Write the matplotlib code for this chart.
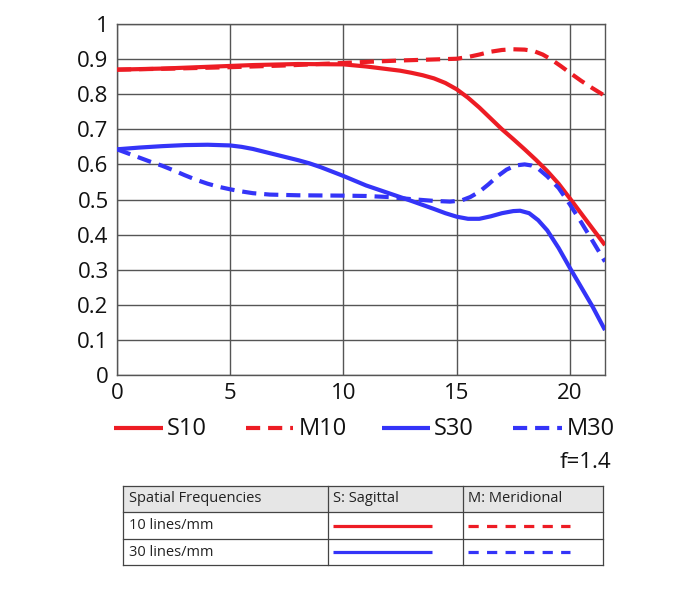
import matplotlib
matplotlib.use("Agg")
import matplotlib.pyplot as plt
from matplotlib.lines import Line2D
from matplotlib.patches import Rectangle

plt.rcParams['font.family'] = ['Open Sans', 'DejaVu Sans']

# ---- data ----
x_s10 = [0, 2, 4, 6, 8, 10, 11, 12, 12.5, 13, 13.5, 14, 14.5, 15, 15.5, 16, 16.5, 17, 17.5, 18, 18.5, 19, 19.5, 20, 20.5, 21, 21.55]
y_s10 = [0.870, 0.873, 0.878, 0.883, 0.886, 0.885, 0.879, 0.871, 0.867, 0.861, 0.854, 0.845, 0.832, 0.814, 0.790, 0.762, 0.731, 0.700, 0.672, 0.643, 0.613, 0.581, 0.545, 0.503, 0.460, 0.417, 0.370]

x_m10 = [0, 2.5, 5, 7.5, 10, 11, 12.5, 14, 15, 15.5, 16, 16.5, 17, 17.5, 18, 18.4, 18.8, 19.2, 19.6, 20, 20.5, 21, 21.55]
y_m10 = [0.870, 0.873, 0.877, 0.882, 0.889, 0.892, 0.896, 0.899, 0.901, 0.906, 0.913, 0.921, 0.926, 0.928, 0.927, 0.923, 0.913, 0.898, 0.880, 0.861, 0.838, 0.817, 0.795]

x_s30 = [0, 1, 2, 3, 4, 5, 5.5, 6, 6.5, 7, 8, 8.5, 9, 10, 11, 12, 13, 14, 14.5, 15, 15.5, 16, 16.5, 17, 17.5, 17.8, 18.2, 18.6, 19, 19.5, 20, 20.5, 21, 21.55]
y_s30 = [0.643, 0.648, 0.652, 0.655, 0.656, 0.654, 0.650, 0.644, 0.636, 0.628, 0.612, 0.603, 0.592, 0.567, 0.540, 0.518, 0.496, 0.473, 0.461, 0.451, 0.445, 0.445, 0.452, 0.461, 0.467, 0.468, 0.461, 0.441, 0.412, 0.362, 0.305, 0.250, 0.195, 0.128]

x_m30 = [0, 0.5, 1, 1.5, 2, 2.5, 3, 3.5, 4, 4.5, 5, 5.5, 6, 6.75, 8, 10, 11, 12, 13, 14, 14.7, 15.2, 15.6, 16, 16.4, 16.8, 17.2, 17.6, 18, 18.3, 18.6, 19, 19.5, 20, 20.5, 21, 21.55]
y_m30 = [0.643, 0.631, 0.619, 0.607, 0.596, 0.583, 0.569, 0.556, 0.545, 0.536, 0.529, 0.523, 0.518, 0.514, 0.512, 0.511, 0.510, 0.507, 0.501, 0.496, 0.494, 0.497, 0.507, 0.522, 0.543, 0.566, 0.585, 0.597, 0.600, 0.597, 0.588, 0.566, 0.533, 0.486, 0.435, 0.382, 0.323]

series_names = ["S10", "M10", "S30", "M30"]
x_ticks = [0, 5, 10, 15, 20]
y_ticks = [0, 0.1, 0.2, 0.3, 0.4, 0.5, 0.6, 0.7, 0.8, 0.9, 1]
y_tick_labels = ["0", "0.1", "0.2", "0.3", "0.4", "0.5", "0.6", "0.7", "0.8", "0.9", "1"]
table_header = ["Spatial Frequencies", "S: Sagittal", "M: Meridional"]
table_rows = ["10 lines/mm", "30 lines/mm"]
aperture = "f=1.4"

RED = "#ED1C24"
BLUE = "#3434F8"
GRID = "#555555"

W, H = 700, 595
fig = plt.figure(figsize=(W / 100, H / 100), dpi=100)
fig.patch.set_facecolor("white")

def fx(px):
    return px / W

def fy(py):
    return 1 - py / H

ax = fig.add_axes([fx(117), fy(375), (605 - 117) / W, (375 - 24) / H])
ax.set_xlim(0, 21.55)
ax.set_ylim(0, 1)

dash_big = (0, (3.4, 1.9))
lw = 3.0
ax.plot(x_s10, y_s10, color=RED, lw=lw, solid_capstyle="butt", solid_joinstyle="round", zorder=3)
ax.plot(x_m10, y_m10, color=RED, lw=lw, ls=dash_big, zorder=3)
ax.plot(x_s30, y_s30, color=BLUE, lw=lw, solid_capstyle="butt", solid_joinstyle="round", zorder=3)
ax.plot(x_m30, y_m30, color=BLUE, lw=lw, ls=dash_big, zorder=3)

ax.set_xticks(x_ticks)
ax.set_yticks(y_ticks)
ax.set_yticklabels(y_tick_labels)
ax.tick_params(length=0, labelsize=16, pad=6, colors="#111111")
ax.grid(True, color=GRID, lw=1.0)
ax.set_axisbelow(True)
for s in ax.spines.values():
    s.set_color(GRID)
    s.set_linewidth(1.0)

# ---- legend (manual) ----
leg_y = 428
leg_items = [
    (114, 163, 167, RED, "-"),
    (246, 293, 299, RED, dash_big),
    (382, 430, 434, BLUE, "-"),
    (513, 562, 567, BLUE, dash_big),
]
for name, (x0, x1, xt, c, ls) in zip(series_names, leg_items):
    fig.add_artist(Line2D([fx(x0), fx(x1)], [fy(leg_y), fy(leg_y)], color=c, lw=lw, ls=ls,
                          solid_capstyle="butt"))
    fig.text(fx(xt), fy(leg_y + 1), name, fontsize=17, va="center", ha="left", color="#111111")

fig.text(fx(611), fy(463), aperture, fontsize=16, va="center", ha="right", color="#111111")

# ---- table ----
tl, tr = 123, 603
ty = [486, 512, 539, 565]
cx = [tl, 328, 463, tr]
fig.add_artist(Rectangle((fx(tl), fy(ty[1])), fx(tr) - fx(tl), fy(ty[0]) - fy(ty[1]),
                         facecolor="#E6E6E6", edgecolor="none"))
bc = "#444444"
for yy in ty:
    fig.add_artist(Line2D([fx(tl), fx(tr)], [fy(yy), fy(yy)], color=bc, lw=0.9))
for xx in cx:
    fig.add_artist(Line2D([fx(xx), fx(xx)], [fy(ty[0]), fy(ty[-1])], color=bc, lw=0.9))

tfs = 10.5
text_x = [129, 333, 468]
for t, xx in zip(table_header, text_x):
    fig.text(fx(xx), fy((ty[0] + ty[1]) / 2), t, fontsize=tfs, va="center", ha="left", color="#222222")
row_colors = [RED, BLUE]
dash_small = (0, (3.2, 2.6))
for i, (t, c) in enumerate(zip(table_rows, row_colors)):
    yc = (ty[i + 1] + ty[i + 2]) / 2
    fig.text(fx(129), fy(yc), t, fontsize=tfs, va="center", ha="left", color="#222222")
    fig.add_artist(Line2D([fx(333), fx(432)], [fy(yc), fy(yc)], color=c, lw=2.3, solid_capstyle="butt"))
    fig.add_artist(Line2D([fx(468), fx(570)], [fy(yc), fy(yc)], color=c, lw=2.3, ls=dash_small))

fig.savefig("out.png", dpi=100, facecolor="white")
